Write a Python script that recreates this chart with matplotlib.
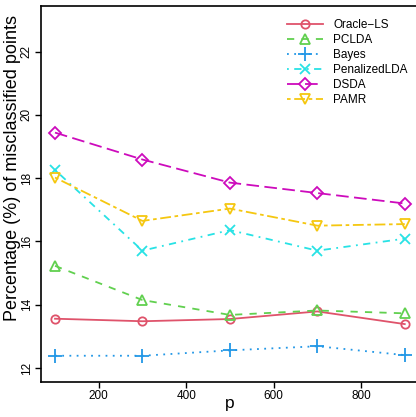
import matplotlib
matplotlib.use("Agg")
import matplotlib.pyplot as plt

plt.rcParams["font.family"] = ["Liberation Sans", "DejaVu Sans"]

# ---------- DATA ----------
p = [100, 300, 500, 700, 900]
oracle_ls = [13.56, 13.48, 13.55, 13.79, 13.39]
pclda = [15.23, 14.15, 13.68, 13.82, 13.73]
bayes = [12.39, 12.39, 12.56, 12.69, 12.41]
penalized_lda = [18.26, 15.71, 16.36, 15.71, 16.09]
dsda = [19.44, 18.59, 17.86, 17.53, 17.20]
pamr = [18.02, 16.65, 17.04, 16.50, 16.55]
names = ["Oracle\u2212LS", "PCLDA", "Bayes", "PenalizedLDA", "DSDA", "PAMR"]
x_ticks = [200, 400, 600, 800]
y_ticks = [12, 14, 16, 18, 20, 22]
# --------------------------

series = [oracle_ls, pclda, bayes, penalized_lda, dsda, pamr]
colors = ["#DF536B", "#61D04F", "#2297E6", "#28E2E5", "#CD0BBC", "#F5C710"]
markers = ["o", "^", "+", "x", "D", "v"]
msizes = [6, 7.5, 9.5, 7, 6.5, 7.5]
dashes = [None, (4, 4), (1, 3), (1, 3, 4, 3), (7, 3), (2, 2, 6, 2)]

fig = plt.figure(figsize=(4.16, 4.17), dpi=100)
ax = fig.add_axes([0.0986, 0.0839, 0.908, 0.9017])

for ys, name, c, m, ms, d in zip(series, names, colors, markers, msizes, dashes):
    line, = ax.plot(p, ys, color=c, lw=1.3, marker=m, ms=ms, mew=1.3,
                    mfc="none", label=name)
    if d is not None:
        line.set_dashes(d)

ax.set_xlim(68, 932)
ax.set_ylim(11.56, 23.44)
ax.set_xticks(x_ticks)
ax.set_yticks(y_ticks)
ax.tick_params(labelsize=8.5, length=4, width=1, direction="out")
ax.tick_params(axis="x", pad=1.5)
ax.tick_params(axis="y", pad=2)
for lab in ax.get_yticklabels():
    lab.set_rotation(90)
    lab.set_va("center")
for s in ax.spines.values():
    s.set_linewidth(1.2)
ax.set_xlabel("p", fontsize=12.5)
ax.xaxis.set_label_coords(0.5, -0.038)
ax.set_ylabel("Percentage (%) of misclassified points", fontsize=13)
ax.yaxis.set_label_coords(-0.053, 0.569)

ax.legend(loc="upper right", bbox_to_anchor=(0.984, 0.977), frameon=False,
          fontsize=8.5, handlelength=3.0, handletextpad=0.9, labelspacing=0.25,
          borderaxespad=0)

fig.savefig("out.png", dpi=100)
